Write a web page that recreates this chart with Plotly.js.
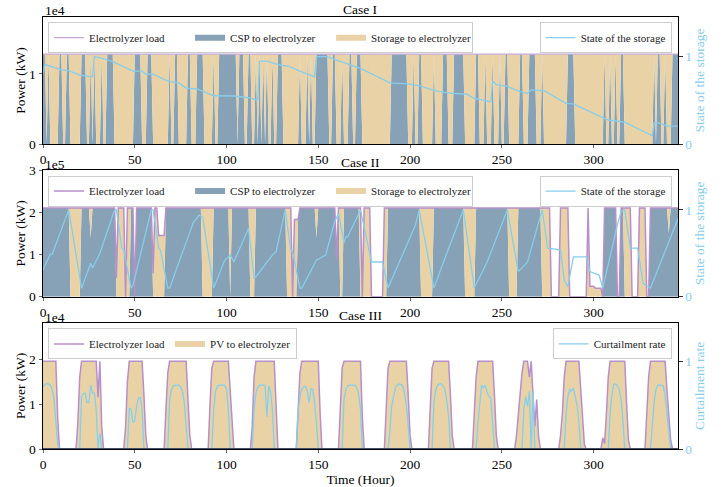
<!DOCTYPE html>
<html><head><meta charset="utf-8">
<script src="https://cdn.plot.ly/plotly-3.0.1.min.js"></script>
<style>html,body{margin:0;padding:0;background:#fff}#chart{width:726px;height:487px}</style>
</head><body><div id="chart"></div>
<script>
// ---------------- DATA ----------------
const hourCount = 347;               // hours 0..346
const xTicks = [0, 50, 100, 150, 200, 250, 300];

// Case I (power in 1e4 kW)
const case1LoadLevel = 1.28;
const case1CspOnHours = [0,1,3,9,10,13,14,21,22,23,26,28,32,35,36,37,38,50,51,52,53,57,58,59,69,72,73,79,80,84,85,86,87,93,96,97,98,99,100,101,102,103,104,105,107,108,109,112,113,116,118,120,122,125,128,129,130,140,144,146,149,150,151,152,153,154,155,158,159,163,167,168,171,172,173,190,191,192,193,194,195,196,197,198,202,205,206,213,218,219,220,224,225,226,227,228,229,236,237,241,245,249,252,253,260,261,265,266,267,268,272,286,287,288,289,306,309,312,315,316,333,335,336,339,343,344,345,346];
const case1State = [[0,0.81],[1,0.905],[2,0.905],[10,0.85],[14,0.84],[20,0.79],[27,0.77],[28,1.0],[31,0.99],[38,0.943],[49,0.836],[54,0.836],[56,0.80],[60,0.80],[68,0.72],[74,0.70],[78,0.64],[84,0.63],[93,0.553],[104,0.55],[112,0.53],[117,0.504],[118,0.95],[122,0.95],[129,0.905],[134,0.89],[142,0.817],[148,0.77],[149,1.0],[155,1.0],[160,0.96],[173,0.867],[189,0.70],[199,0.69],[206,0.664],[212,0.62],[216,0.60],[223,0.58],[231,0.57],[235,0.523],[244,0.485],[245,0.72],[247,0.68],[253,0.66],[260,0.60],[264,0.58],[266,0.62],[273,0.61],[285,0.466],[289,0.46],[308,0.275],[317,0.25],[332,0.095],[333,0.244],[336,0.24],[340,0.206],[346,0.206]];

// Case II (power in 1e5 kW)
const case2LoadLevel = 2.1;
const case2LoadOffHours = [45,50,136,174,179,180,181,182,183,184,185,277,278,279,280,281,287,288,289,290,291,292,293,294,295,296,305,313,314,321,322,323,324,329,330];
const case2LoadPartial = [[40,0.45],[60,0.55],[63,1.45],[64,1.45],[65,1.45],[66,1.45],[137,1.83],[138,1.83],[139,1.83],[160,0.87],[298,0.25],[299,0.25],[300,0.25],[301,0.2],[302,0.2],[303,0.2],[304,0.2]];
const case2CspOffHours = [15,16,17,18,19,20,40,41,42,43,44,46,47,60,61,62,63,64,65,66,87,88,89,90,91,92,102,113,114,115,133,134,135,137,138,162,163,173,175,176,177,178,186,187,206,207,208,209,210,211,212,230,231,232,233,234,235,254,255,256,257,258,272,273,274,275,276,282,283,284,285,286,297,298,299,300,301,302,303,304,317,318,319,320,325,326,327,328];
const case2CspPartial = [[26,1.4],[149,1.4],[341,1.5]];
const case2State = [[0,0.31],[3,0.45],[4,0.49],[5,0.49],[14,1.0],[21,0.096],[26,0.385],[27,0.33],[31,0.5],[39,1.0],[40,1.0],[43,0.56],[44,0.54],[48,0.1],[49,0.13],[59,1.0],[60,1.0],[63,0.56],[64,0.54],[68,0.1],[69,0.1],[82,0.86],[83,0.88],[85,0.94],[87,0.92],[93,0.1],[99,0.42],[102,0.48],[104,0.40],[112,0.79],[115,0.21],[116,0.23],[125,0.48],[127,0.52],[132,1.0],[135,0.54],[136,0.52],[140,0.1],[141,0.1],[149,0.42],[154,0.48],[159,0.87],[161,0.96],[164,0.62],[165,0.69],[166,0.69],[173,1.0],[179,0.40],[185,0.40],[188,0.1],[194,0.40],[203,0.83],[205,1.0],[213,0.1],[220,0.5],[229,1.0],[235,0.1],[242,0.40],[253,1.0],[259,0.29],[260,0.31],[264,0.40],[272,1.0],[275,0.56],[282,0.54],[284,0.19],[286,0.115],[289,0.46],[296,0.46],[298,0.29],[303,0.25],[305,0.1],[313,0.83],[315,0.98],[317,1.0],[320,0.56],[324,0.56],[327,0.15],[331,0.1],[342,0.67],[346,0.90]];

// Case III (power in 1e4 kW)
const case3Load = [[0,1.95],[7,1.95],[8,0.7],[9,0],
[18,0],[19,0.6],[20,1.6],[21,1.95],[29,1.95],[30,1.15],[31,1.95],[32,0.5],[33,0],
[44,0],[45,0.5],[46,1.5],[47,1.95],[54,1.95],[55,1.2],[56,0.3],[57,0],
[66,0],[67,0.9],[68,1.7],[69,1.95],[78,1.95],[79,1.1],[80,0.3],[81,0],
[90,0],[91,1.0],[92,1.8],[93,1.95],[101,1.95],[102,1.3],[103,0.5],[104,0],
[113,0],[114,0.5],[115,1.6],[116,1.95],[126,1.95],[127,0.8],[128,0],
[138,0],[139,0.8],[140,1.7],[141,1.95],[150,1.95],[151,0.8],[152,0],
[161,0],[162,0.9],[163,1.8],[164,1.95],[173,1.95],[174,0.7],[175,0],
[186,0],[187,0.8],[188,1.8],[189,1.95],[198,1.95],[199,1.2],[200,0.3],[201,0],
[210,0],[211,0.9],[212,1.8],[213,1.95],[221,1.95],[222,1.2],[223,0.3],[224,0],
[234,0],[235,0.8],[236,1.6],[237,1.95],[245,1.95],[246,1.2],[247,0.3],[248,0],
[257,0],[258,0.3],[259,0.8],[260,1.3],[261,1.7],[262,1.95],[264,1.95],[265,1.6],[266,1.95],[267,1.2],[268,0.5],[269,1.1],[270,0.3],[271,0],
[281,0],[282,0.3],[283,0.8],[284,1.6],[285,1.95],[292,1.95],[293,1.3],[294,0.6],[295,0.1],[296,0],
[304,0],[305,0.25],[306,0.12],[307,0.8],[308,1.6],[309,1.95],[317,1.95],[318,1.0],[319,0.2],[320,0],
[328,0],[329,0.8],[330,1.6],[331,1.95],[339,1.95],[340,1.3],[341,0.7],[342,0.2],[343,0],[346,0]];
const case3Curtail = [[0,0.71],[1,0.74],[2,0.745],[3,0.745],[4,0.73],[5,0.68],[6,0.57],[7,0.33],[8,0.05],[9,0],
[20,0],[21,0.6],[22,0.64],[23,0.64],[24,0.53],[25,0.53],[26,0.73],[27,0.64],[28,0.64],[29,0.45],[30,0],[31,0.18],[32,0],
[46,0],[47,0.47],[48,0.45],[49,0.3],[50,0.32],[51,0.49],[52,0.58],[53,0.59],[54,0.45],[55,0],
[68,0],[69,0.56],[70,0.68],[71,0.72],[72,0.73],[73,0.73],[74,0.73],[75,0.71],[76,0.66],[77,0.53],[78,0.3],[79,0],
[92,0],[93,0.45],[94,0.66],[95,0.72],[96,0.73],[97,0.73],[98,0.73],[99,0.73],[100,0.68],[101,0.45],[102,0],
[114,0],[115,0.45],[116,0.64],[117,0.7],[118,0.73],[119,0.73],[120,0.73],[121,0.73],[122,0.37],[123,0.72],[124,0.66],[125,0.45],[126,0],
[138,0],[139,0.45],[140,0.6],[141,0.68],[142,0.71],[143,0.72],[144,0.66],[145,0.53],[146,0.69],[147,0.68],[148,0.53],[149,0.3],[150,0],
[163,0],[164,0.56],[165,0.68],[166,0.72],[167,0.73],[168,0.73],[169,0.73],[170,0.73],[171,0.7],[172,0.63],[173,0.45],[174,0],
[188,0],[189,0.2],[190,0.49],[191,0.62],[192,0.7],[193,0.73],[194,0.745],[195,0.74],[196,0.72],[197,0.64],[198,0.5],[199,0.26],[200,0],
[212,0],[213,0.53],[214,0.68],[215,0.73],[216,0.745],[217,0.745],[218,0.72],[219,0.68],[220,0.55],[221,0.37],[222,0],
[236,0],[237,0.3],[238,0.55],[239,0.73],[240,0.7],[241,0.73],[242,0.65],[243,0.6],[244,0.58],[245,0.3],[246,0],
[261,0],[262,0.45],[263,0.6],[264,0.49],[265,0.66],[266,0],[267,0.66],[268,0],
[284,0],[285,0.4],[286,0.6],[287,0.68],[288,0.66],[289,0.7],[290,0.6],[291,0.5],[292,0.3],[293,0],
[308,0],[309,0.4],[310,0.62],[311,0.74],[312,0.745],[313,0.72],[314,0.68],[315,0.56],[316,0.32],[317,0],
[331,0],[332,0.3],[333,0.53],[334,0.68],[335,0.73],[336,0.73],[337,0.73],[338,0.72],[339,0.6],[340,0.4],[341,0.15],[342,0],[346,0]];

// ---------------- BUILD TABLES ----------------
const hours = Array.from({length: hourCount}, (_, i) => i);
const on1 = new Set(case1CspOnHours);
const load1 = hours.map(() => case1LoadLevel);
const csp1 = hours.map(h => on1.has(h) ? case1LoadLevel : 0);
const stor1 = hours.map((h, i) => load1[i] - csp1[i]);

const off2 = new Set(case2LoadOffHours);
const part2 = new Map(case2LoadPartial);
const load2 = hours.map(h => off2.has(h) ? 0 : (part2.has(h) ? part2.get(h) : case2LoadLevel));
const cspOff2 = new Set(case2CspOffHours);
const cspPart2 = new Map(case2CspPartial);
const csp2 = hours.map((h, i) => cspOff2.has(h) ? 0 : Math.min(load2[i], cspPart2.has(h) ? cspPart2.get(h) : load2[i]));
const stor2 = hours.map((h, i) => load2[i] - csp2[i]);

const col = (arr, k) => arr.map(p => p[k]);

// ---------------- STYLE ----------------
const FONT = 'Liberation Serif';
const C_LOAD = '#b78fca', C_CSP = '#87a1b6', C_STOR = '#e9d3a6', C_SKY = '#87ceeb';

const traces = [
  {x: hours, y: csp1, stackgroup: 'p1', mode: 'none', fillcolor: C_CSP, name: 'CSP to electrolyzer', legend: 'legend', legendrank: 2, xaxis: 'x', yaxis: 'y'},
  {x: hours, y: stor1, stackgroup: 'p1', mode: 'none', fillcolor: C_STOR, name: 'Storage to electrolyzer', legend: 'legend', legendrank: 3, xaxis: 'x', yaxis: 'y'},
  {x: hours, y: load1, mode: 'lines', line: {color: '#c6a8d6', width: 1.2}, name: 'Electrolyzer load', legend: 'legend', legendrank: 1, xaxis: 'x', yaxis: 'y'},
  {x: col(case1State, 0), y: col(case1State, 1), mode: 'lines', line: {color: C_SKY, width: 1.3}, name: 'State of the storage', legend: 'legend2', xaxis: 'x', yaxis: 'y2'},

  {x: hours, y: csp2, stackgroup: 'p2', mode: 'none', fillcolor: C_CSP, name: 'CSP to electrolyzer', legend: 'legend3', legendrank: 2, xaxis: 'x2', yaxis: 'y3'},
  {x: hours, y: stor2, stackgroup: 'p2', mode: 'none', fillcolor: C_STOR, name: 'Storage to electrolyzer', legend: 'legend3', legendrank: 3, xaxis: 'x2', yaxis: 'y3'},
  {x: hours, y: load2, mode: 'lines', line: {color: C_LOAD, width: 1.5}, name: 'Electrolyzer load', legend: 'legend3', legendrank: 1, xaxis: 'x2', yaxis: 'y3'},
  {x: col(case2State, 0), y: col(case2State, 1), mode: 'lines', line: {color: C_SKY, width: 1.3}, name: 'State of the storage', legend: 'legend4', xaxis: 'x2', yaxis: 'y4'},

  {x: col(case3Load, 0), y: col(case3Load, 1), fill: 'tozeroy', mode: 'none', fillcolor: C_STOR, name: 'PV to electrolyzer', legend: 'legend5', legendrank: 2, xaxis: 'x3', yaxis: 'y5'},
  {x: col(case3Load, 0), y: col(case3Load, 1), mode: 'lines', line: {color: C_LOAD, width: 1.5}, name: 'Electrolyzer load', legend: 'legend5', legendrank: 1, xaxis: 'x3', yaxis: 'y5'},
  {x: col(case3Curtail, 0), y: col(case3Curtail, 1), mode: 'lines', line: {color: C_SKY, width: 1.3}, name: 'Curtailment rate', legend: 'legend6', xaxis: 'x3', yaxis: 'y6'}
];

const tickFont = {family: FONT, size: 13.5, color: '#000'};
const skyFont = {family: FONT, size: 13.5, color: C_SKY};
function xax(anchor, title) {
  const a = {domain: [0, 1], anchor: anchor, range: [0, 346], tickvals: xTicks, ticks: 'outside', ticklen: 3, tickwidth: 0.8,
    showline: true, mirror: true, linecolor: '#000', linewidth: 1, showgrid: false, zeroline: false, tickfont: tickFont};
  if (title) a.title = {text: title, font: {family: FONT, size: 13.5}, standoff: 0};
  return a;
}
function yax(anchor, domain, range, tv) {
  return {domain: domain, anchor: anchor, range: range, tickvals: tv, ticks: 'outside', ticklen: 3.5, tickwidth: 0.8,
    showline: true, mirror: true, linecolor: '#000', linewidth: 1, showgrid: false, zeroline: false, tickfont: tickFont,
    title: {text: 'Power (kW)', font: {family: FONT, size: 13.5}, standoff: 0}};
}
function yr(over, anchor, range, title) {
  return {overlaying: over, anchor: anchor, side: 'right', range: range, tickvals: [0, 1], ticks: 'outside', ticklen: 3.5, tickwidth: 0.8,
    tickcolor: '#000', showline: false, showgrid: false, zeroline: false, tickfont: skyFont,
    title: {text: title, font: skyFont, standoff: 2}};
}
function leg(x, y, xa, ew) {
  const l = {x: x, y: y, xanchor: xa, yanchor: 'top', orientation: 'h', bgcolor: 'rgba(255,255,255,0.85)', bordercolor: '#cccccc',
    borderwidth: 1, font: {family: FONT, size: 11, color: '#222'}, traceorder: 'normal'};
  if (ew) { l.entrywidth = ew; l.entrywidthmode = 'pixels'; }
  return l;
}
const D1 = [0.706, 1], D2 = [0.3525, 0.6458], D3 = [0, 0.2924];
const ann = (t, x, y, xa, ys) => ({text: t, x: x, y: y, xref: 'paper', yref: 'paper', xanchor: xa, yanchor: 'bottom', showarrow: false, font: {family: FONT, size: 13.5, color: '#000'}, yshift: ys});

const layout = {
  width: 726, height: 487, margin: {l: 43, r: 48, t: 17, b: 38},
  paper_bgcolor: '#fff', plot_bgcolor: '#fff', font: {family: FONT, color: '#000'},
  xaxis: xax('y'), yaxis: yax('x', D1, [0, 1.81], [0, 1]), yaxis2: yr('y', 'x', [0, 1.455], 'State of the storage'),
  xaxis2: xax('y3'), yaxis3: yax('x2', D2, [0, 3], [0, 1, 2, 3]), yaxis4: yr('y3', 'x2', [0, 1.46], 'State of the storage'),
  xaxis3: xax('y5', 'Time (Hour)'), yaxis5: yax('x3', D3, [0, 2.81], [0, 1, 2]), yaxis6: yr('y5', 'x3', [0, 1.445], 'Curtailment rate'),
  legend: leg(0.008, 0.988, 'left', 96), legend2: leg(0.99, 0.988, 'right'),
  legend3: leg(0.008, 0.633, 'left', 96), legend4: leg(0.99, 0.633, 'right'),
  legend5: leg(0.008, 0.279, 'left'), legend6: leg(0.99, 0.279, 'right'),
  annotations: [
    ann('Case I', 0.5, D1[1], 'center', -2), ann('1e4', 0, D1[1], 'left', -3),
    ann('Case II', 0.5, D2[1], 'center', -2), ann('1e5', 0, D2[1], 'left', -4),
    ann('Case III', 0.5, D3[1], 'center', -2), ann('1e4', 0, D3[1], 'left', -4)
  ],
  shapes: [{type: 'line', xref: 'x3 domain', yref: 'y5', x0: 0, x1: 1, y0: 0, y1: 0, line: {color: '#3e5366', width: 2}}],
  showlegend: true
};
Plotly.newPlot('chart', traces, layout, {staticPlot: true, displayModeBar: false});
</script></body></html>
